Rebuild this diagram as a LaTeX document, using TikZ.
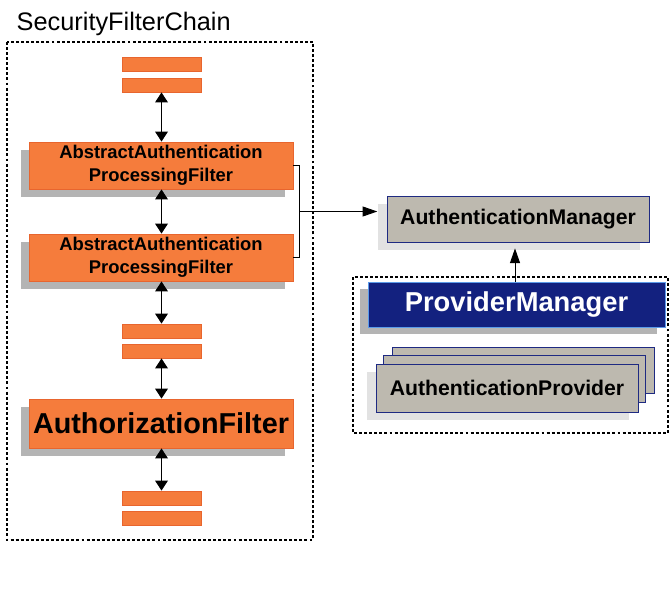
\documentclass[tikz,border=0pt]{standalone}
\usepackage{fontspec}
\setmainfont{Liberation Sans}
\usepackage{xcolor}
\definecolor{filterorange}{HTML}{F57C3C}
\definecolor{filteredge}{HTML}{E8652E}
\definecolor{managertan}{HTML}{BDB9AF}
\definecolor{managernavy}{HTML}{13217F}
\definecolor{navyedge}{HTML}{1E2A82}
\definecolor{pmedge}{HTML}{5B9BEA}
\definecolor{shadowdark}{HTML}{B4B4B4}
\definecolor{shadowlight}{HTML}{E2E2E2}
\usetikzlibrary{positioning,arrows.meta,calc,shadows}
\tikzset{
  filter/.style={draw=filteredge, fill=filterorange, line width=0.6pt, align=center, inner sep=0pt,
    font=\bfseries\fontsize{13.8}{17.3}\selectfont},
  filterbar/.style={filter, minimum width=59.25pt, minimum height=10.5pt},
  bigfilter/.style={filter, minimum width=198pt, general shadow={fill=shadowdark, shadow xshift=-6pt, shadow yshift=-6pt}},
  manager/.style={draw=navyedge, fill=managertan, line width=0.6pt, inner sep=0pt, minimum width=196.5pt,
    font=\bfseries\fontsize{15.9}{19}\selectfont},
  lightshade/.style={general shadow={fill=shadowlight, shadow xshift=-6.5pt, shadow yshift=-6pt}},
  chainbox/.style={draw, dash pattern=on 2.2pt off 1.6pt, line width=0.8pt},
  dbl/.style={{Triangle[width=9.5pt,length=7.5pt]}-{Triangle[width=9.5pt,length=7.5pt]}, line width=1pt},
  link/.style={-{Triangle[width=7.5pt,length=11pt]}, line width=0.7pt},
}
\begin{document}
\begin{tikzpicture}[x=0.75pt, y=-0.75pt]
  \useasboundingbox (0,0) rectangle (670,610);
  % security filter chain
  \node[anchor=base west, font=\fontsize{19}{22}\selectfont] (chaintitle) at (12,31) {SecurityFilterChain};
  \draw[chainbox] (7,42) rectangle (313,540);
  \node[filterbar] (b1) at (161.5,64) {};
  \node[filterbar] (b2) at (161.5,85) {};
  \node[bigfilter, minimum height=35.25pt] (aapf1) at (161,165.5) {AbstractAuthentication\\ProcessingFilter};
  \node[bigfilter, minimum height=35.25pt] (aapf2) at (161,257.5) {AbstractAuthentication\\ProcessingFilter};
  \node[filterbar] (b3) at (161.5,331) {};
  \node[filterbar] (b4) at (161.5,351) {};
  \node[bigfilter, minimum height=36.75pt, font=\bfseries\fontsize{21.6}{24}\selectfont] (authz) at (161,423.5) {AuthorizationFilter};
  \node[filterbar] (b5) at (161.5,498) {};
  \node[filterbar] (b6) at (161.5,518.5) {};
  \draw[dbl] (b2.south) -- (b2.south |- aapf1.north);
  \draw[dbl] (b2.south |- aapf1.south) -- (b2.south |- aapf2.north);
  \draw[dbl] (b2.south |- aapf2.south) -- (b3.north);
  \draw[dbl] (b4.south) -- (b4.south |- authz.north);
  \draw[dbl] (b4.south |- authz.south) -- (b5.north);
  % authentication side
  \node[manager, lightshade, minimum height=34.5pt] (am) at (518,219) {AuthenticationManager};
  \draw[chainbox] (353,277) rectangle (668,433);
  \node[draw=pmedge, fill=managernavy, text=white, line width=0.6pt, inner sep=0pt, minimum width=222.75pt,
    minimum height=33.75pt, font=\bfseries\fontsize{20.5}{24}\selectfont,
    general shadow={fill=shadowdark, shadow xshift=-6pt, shadow yshift=-5.5pt}] (pm) at (516.5,304.5) {ProviderManager};
  \node[manager, minimum height=34.5pt] (ap3) at (523,370) {};
  \node[manager, minimum height=35.25pt] (ap2) at (514.5,379) {};
  \node[manager, lightshade, minimum height=36pt] (ap) at (507,388) {AuthenticationProvider};
  % connectors
  \draw[line width=0.7pt] (aapf1.east) -- ++(6,0) coordinate (brtop) |- (aapf2.east);
  \coordinate (brmid) at ($(brtop)!0.5!(brtop |- aapf2.east)$);
  \draw[link, shorten >=7pt] (brmid) -- (brmid -| am.west);
  \draw[link, shorten >=4.5pt] (515,0 |- pm.north) -- (515,0 |- am.south);
\end{tikzpicture}
\end{document}
